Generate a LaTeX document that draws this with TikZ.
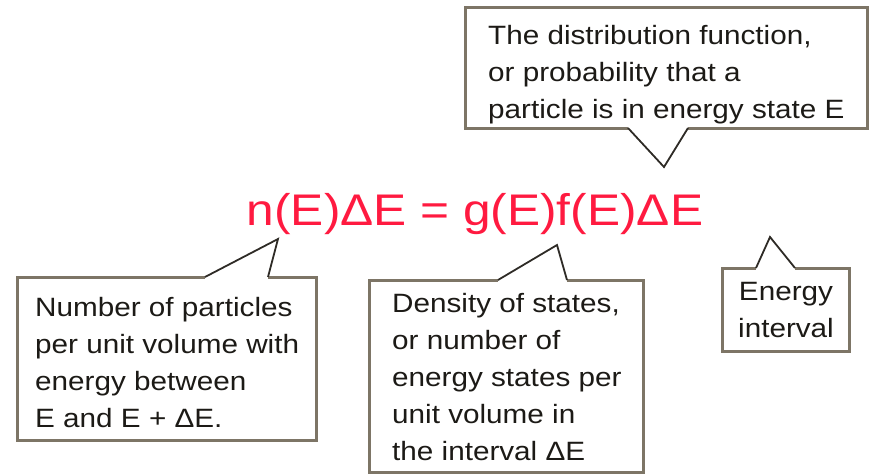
\documentclass[tikz,border=0pt]{standalone}
\usepackage{fontspec}
\setmainfont{Liberation Sans}[FakeStretch=1.12]
\definecolor{eqRed}{HTML}{FF1A40}
\definecolor{boxEdge}{HTML}{7D7566}
\definecolor{pointerDark}{HTML}{2E2B26}
\definecolor{noteText}{HTML}{1C1A16}
\usepackage{tikz}
\usetikzlibrary{calc, positioning}

\begin{document}
\begin{tikzpicture}[x=1pt, y=-1pt,
    edge/.style={draw=boxEdge, line width=3pt},
    pointer/.style={draw=pointerDark, line width=1.8pt},
    note/.style={inner sep=0pt, anchor=north west, align=left, text=noteText,
                 font=\fontsize{26.5}{37}\selectfont}]
  \useasboundingbox (0,0) rectangle (871,474);

  % the equation
  \node[anchor=base, text=eqRed, font=\fontsize{44.3}{50}\selectfont] (eq) at (475,225)
    {n(E)ΔE = g(E)f(E)ΔE};

  % where the pointers end
  \coordinate (tipDist) at (664,167);
  \coordinate (tipNum) at (278,239);
  \coordinate (tipDens) at (557,245);
  \coordinate (tipInt) at (770,237);

  % distribution function
  \draw[edge] (628,128) -- (465,128) -- (465,7) -- (867,7) -- (867,128) -- (688,128);
  \draw[pointer] (628,128) -- (tipDist) -- (688,128);
  \node[note] (distNote) at (488,25)
    {The distribution function,\\or probability that a\\particle is in energy state E};

  % number of particles
  \draw[edge] (205,277) -- (17,277) -- (17,440) -- (316,440) -- (316,277) -- (268,277);
  \draw[pointer] (205,277) -- (tipNum) -- (268,277);
  \node[note] (numNote) at (35,297)
    {Number of particles\\per unit volume with\\energy between\\E and E + ΔE.};

  % density of states
  \draw[edge] (498,280) -- (369,280) -- (369,472) -- (643,472) -- (643,280) -- (567,280);
  \draw[pointer] (498,280) -- (tipDens) -- (567,280);
  \node[note] (densNote) at (392,293)
    {Density of states,\\or number of\\energy states per\\unit volume in\\the interval ΔE};

  % energy interval
  \draw[edge] (756,268) -- (722,268) -- (722,351) -- (849,351) -- (849,268) -- (795,268);
  \draw[pointer] (756,268) -- (tipInt) -- (795,268);
  \node[note, anchor=north, align=center] (intNote) at (786,282)
    {Energy\\interval};
\end{tikzpicture}
\end{document}
